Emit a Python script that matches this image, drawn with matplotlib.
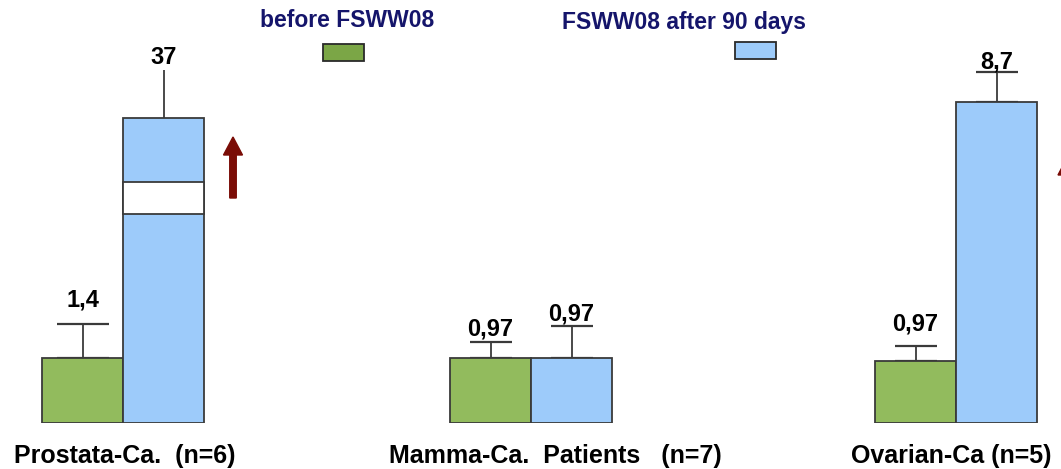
import matplotlib
matplotlib.use("Agg")
import matplotlib.pyplot as plt
from matplotlib.patches import Rectangle, FancyArrow

plt.rcParams['font.family'] = ['Liberation Sans', 'DejaVu Sans']

# ---- data ----
categories = ["Prostata-Ca.  (n=6)", "Mamma-Ca.  Patients   (n=7)", "Ovarian-Ca (n=5)"]
series_names = ["before FSWW08", "FSWW08 after 90 days"]
# drawn bar heights (broken axis, not to scale) and upper error extents
before_heights = [6.5, 6.5, 6.2]
after_heights = [30.5, 6.5, 32.1]
before_err = [3.4, 1.6, 1.5]
after_err = [4.8, 3.2, 3.0]
before_labels = ["1,4", "0,97", "0,97"]
after_labels = ["37", "0,97", "8,7"]

# ---- layout ----
group_x = [1.23, 5.31, 9.56]
bar_w = 0.81
green = "#92BB5D"
blue = "#9DCBFA"
edge = "#3a3a3a"
navy = "#15156b"
arrow_col = "#7a0c06"

W, H = 1061, 469
fig = plt.figure(figsize=(W / 100, H / 100), dpi=100)
base_px = 423
ax = fig.add_axes([0, (H - base_px) / H, 1, base_px / H])
ax.set_xlim(0, W / 100)
ax.set_ylim(0, base_px / 10)
ax.axis("off")

xb = [x - bar_w / 2 for x in group_x]
xa = [x + bar_w / 2 for x in group_x]

ax.bar(xb, before_heights, width=bar_w, color=green, edgecolor=edge, linewidth=1.3, zorder=2)
ax.bar(xa, after_heights, width=bar_w, color=blue, edgecolor=edge, linewidth=1.3, zorder=2)

# broken-axis band on first after bar
ax.bar(xa[0], 3.2, bottom=20.9, width=bar_w, color="white", edgecolor=edge, linewidth=1.3, zorder=3)

# error bars (upper only)
caps_b = [19, 14.8, 14.8]
caps_a = [0, 14.8, 14.8]
for i in range(3):
    ax.errorbar(xb[i], before_heights[i], yerr=[[0], [before_err[i]]], fmt="none",
                ecolor=edge, elinewidth=1.3, capsize=caps_b[i], capthick=1.6, zorder=1)
    ax.errorbar(xa[i], after_heights[i], yerr=[[0], [after_err[i]]], fmt="none",
                ecolor=edge, elinewidth=1.3, capsize=caps_a[i], capthick=1.6, zorder=1)

# value labels (baseline offsets above error tops)
lbl_off_b = [1.7, 0.7, 1.5]
lbl_off_a = [0.6, 0.6, 0.4]
for i in range(3):
    ax.text(xb[i], before_heights[i] + before_err[i] + lbl_off_b[i], before_labels[i],
            ha="center", va="baseline", fontsize=17, fontweight="bold", color="black", zorder=5)
    ax.text(xa[i], after_heights[i] + after_err[i] + lbl_off_a[i], after_labels[i],
            ha="center", va="baseline", fontsize=17, fontweight="bold", color="black", zorder=5)

# arrows
ax.add_patch(FancyArrow(2.33, 22.5, 0, 4.3, width=0.065, head_width=0.19, head_length=1.8,
                        length_includes_head=False, color=arrow_col, zorder=4))
ax.add_patch(FancyArrow(10.675, 18.6, 0, 6.2, width=0.065, head_width=0.19, head_length=1.8,
                        length_includes_head=False, color=arrow_col, zorder=4, clip_on=False))

# category labels
cat_x = [125, 555, 951]
for cx, c in zip(cat_x, categories):
    fig.text(cx / W, 1 - 463 / H, c, ha="center", va="baseline", fontsize=18,
             fontweight="bold", color="black")

# legend
fig.text(347 / W, 1 - 27 / H, series_names[0], ha="center", va="baseline", fontsize=16.5,
         fontweight="bold", color=navy)
fig.text(684 / W, 1 - 29 / H, series_names[1], ha="center", va="baseline", fontsize=16.5,
         fontweight="bold", color=navy)
fig.patches.append(Rectangle((323 / W, 1 - 61 / H), 41 / W, 17 / H, transform=fig.transFigure,
                             facecolor="#7BA646", edgecolor="#2a2a2a", linewidth=1.3))
fig.patches.append(Rectangle((735 / W, 1 - 59 / H), 41 / W, 17 / H, transform=fig.transFigure,
                             facecolor=blue, edgecolor="#2a2a2a", linewidth=1.3))

fig.savefig("out.png", dpi=100)
